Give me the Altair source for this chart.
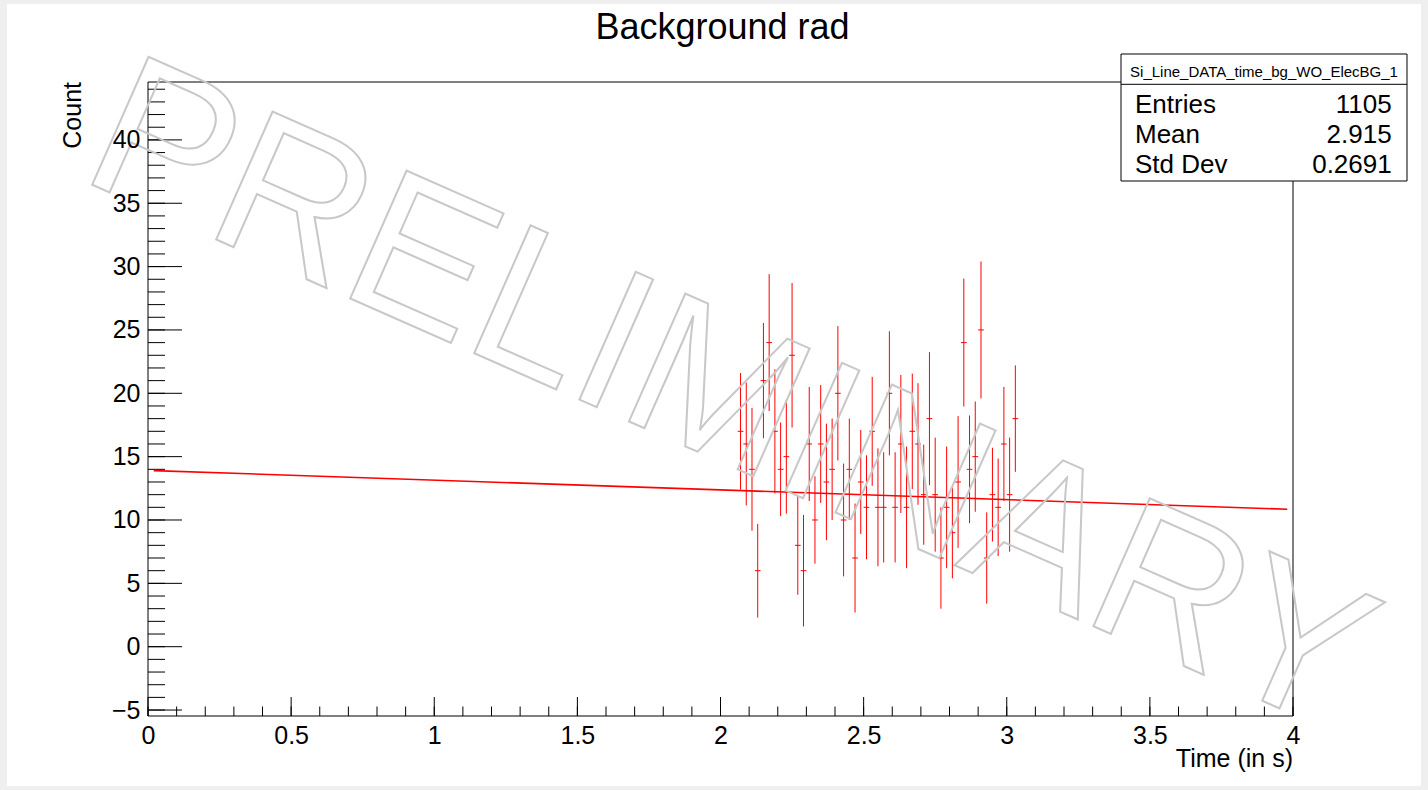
import altair as alt
import pandas as pd

# ---------------- data ----------------
bin_centers = [2.07, 2.09, 2.11, 2.13, 2.15, 2.17, 2.19, 2.21, 2.23, 2.25,
               2.27, 2.29, 2.31, 2.33, 2.35, 2.37, 2.39, 2.41, 2.43, 2.45,
               2.47, 2.49, 2.51, 2.53, 2.55, 2.57, 2.59, 2.61, 2.63, 2.65,
               2.67, 2.69, 2.71, 2.73, 2.75, 2.77, 2.79, 2.81, 2.83, 2.85,
               2.87, 2.89, 2.91, 2.93, 2.95, 2.97, 2.99, 3.01, 3.03]
counts = [17, 16, 14, 6, 21, 24, 17, 14, 15, 23,
          8, 6, 16, 10, 16, 13, 14, 20, 10, 14,
          7, 13, 11, 17, 11, 11, 20, 11, 16, 11,
          17, 16, 12, 18, 12, 7, 11, 9, 13, 24,
          14, 15, 25, 7, 12, 11, 16, 12, 18]
errors = [4.6, 4.85, 4.85, 3.7, 4.55, 5.4, 4.9, 3.7, 4.5, 5.7,
          3.9, 4.4, 4.5, 3.45, 4.65, 4.6, 4.0, 5.3, 4.45, 4.0,
          4.3, 4.1, 4.1, 4.3, 4.65, 4.35, 4.9, 4.35, 5.45, 4.8,
          4.55, 4.8, 3.95, 5.25, 4.5, 4.0, 4.8, 3.6, 5.2, 5.05,
          4.25, 4.35, 5.4, 3.6, 3.7, 3.85, 4.5, 4.5, 4.2]
bin_width = 0.02

fit_x = [0.02, 3.98]
fit_y = [13.9, 10.85]

x_major = [0, 0.5, 1, 1.5, 2, 2.5, 3, 3.5, 4]
x_minor = [round(0.1 * i, 1) for i in range(41)]
y_major = [-5, 0, 5, 10, 15, 20, 25, 30, 35, 40]
y_minor = list(range(-5, 45))

chart_title = "Background rad"
x_title = "Time (in s)"
y_title = "Count"
watermark = "PRELIMINARY"
stats_name = "Si_Line_DATA_time_bg_WO_ElecBG_1"
stats_labels = ["Entries", "Mean", "Std Dev"]
stats_values = ["1105", "2.915", "0.2691"]

# ---------------- layout ----------------
FONT = "Liberation Sans"
W, H = 1145, 634
RED = "#ff0000"

xs = alt.Scale(domain=[0, 4], nice=False, zero=False)
ys = alt.Scale(domain=[-5.47, 44.57], nice=False, zero=False)

x_axis = alt.Axis(values=x_major, format="~g", title=None, grid=False, ticks=False,
                  tickSize=0, domain=False, labelFont=FONT, labelFontSize=25,
                  labelColor="black", labelPadding=7, labelFlush=False,
                  labelOverlap=False, zindex=1)
y_axis = alt.Axis(values=y_major, format="~g", title=None, grid=False, ticks=False,
                  tickSize=0, domain=False, labelFont=FONT, labelFontSize=25,
                  labelColor="black", labelPadding=8, labelFlush=False,
                  labelOverlap=False, zindex=1)

df = pd.DataFrame({"x": bin_centers, "y": counts, "err": errors})
df["lo"] = df["y"] - df["err"]
df["hi"] = df["y"] + df["err"]
df["xl"] = df["x"] - bin_width / 2
df["xr"] = df["x"] + bin_width / 2

one = pd.DataFrame({"k": [0]})

# white page panel on grey surround
page = alt.Chart(one).mark_rect(fill="white").encode(
    x=alt.value(-141), x2=alt.value(1273), y=alt.value(-78), y2=alt.value(704))

# plot frame
frame = alt.Chart(one).mark_rect(fillOpacity=0, stroke="black", strokeWidth=1).encode(
    x=alt.value(0), x2=alt.value(W), y=alt.value(0), y2=alt.value(H))

# inward ticks
ytick_major = alt.Chart(pd.DataFrame({"v": y_major})).mark_rule(color="black", strokeWidth=1).encode(
    y=alt.Y("v:Q", scale=ys, axis=y_axis), x=alt.value(0), x2=alt.value(34))
ytick_minor = alt.Chart(pd.DataFrame({"v": y_minor})).mark_rule(color="black", strokeWidth=1).encode(
    y=alt.Y("v:Q", scale=ys, axis=y_axis), x=alt.value(0), x2=alt.value(17))
xtick_major = alt.Chart(pd.DataFrame({"v": x_major})).mark_rule(color="black", strokeWidth=1).encode(
    x=alt.X("v:Q", scale=xs, axis=x_axis), y=alt.value(H), y2=alt.value(H - 19))
xtick_minor = alt.Chart(pd.DataFrame({"v": x_minor})).mark_rule(color="black", strokeWidth=1).encode(
    x=alt.X("v:Q", scale=xs, axis=x_axis), y=alt.value(H), y2=alt.value(H - 9.5))

# data: vertical error bars and horizontal bin-width bars
err_bars = alt.Chart(df).mark_rule(color=RED, strokeWidth=1).encode(
    x=alt.X("x:Q", scale=xs, axis=x_axis),
    y=alt.Y("lo:Q", scale=ys, axis=y_axis),
    y2="hi:Q")
bin_bars = alt.Chart(df).mark_rule(color=RED, strokeWidth=1).encode(
    x=alt.X("xl:Q", scale=xs, axis=x_axis), x2="xr:Q",
    y=alt.Y("y:Q", scale=ys, axis=y_axis))

fit = alt.Chart(pd.DataFrame({"x": fit_x, "y": fit_y})).mark_line(color=RED, strokeWidth=1.6).encode(
    x=alt.X("x:Q", scale=xs, axis=x_axis), y=alt.Y("y:Q", scale=ys, axis=y_axis))

wm = alt.Chart(pd.DataFrame({"t": [watermark]})).mark_text(
    font=FONT, fontSize=203, angle=23.8, align="left", baseline="alphabetic",
    fillOpacity=0, stroke="#c8c8c8", strokeWidth=2).encode(
    text="t:N", x=alt.value(-71), y=alt.value(96))

title = alt.Chart(pd.DataFrame({"t": [chart_title]})).mark_text(
    font=FONT, fontSize=36, align="center", baseline="alphabetic", color="black").encode(
    text="t:N", x=alt.value(574.5), y=alt.value(-42.7))

xt = alt.Chart(pd.DataFrame({"t": [x_title]})).mark_text(
    font=FONT, fontSize=25, align="right", baseline="alphabetic", color="black").encode(
    text="t:N", x=alt.value(W), y=alt.value(684.7))

yt = alt.Chart(pd.DataFrame({"t": [y_title]})).mark_text(
    font=FONT, fontSize=25, align="right", baseline="alphabetic", angle=270, color="black").encode(
    text="t:N", x=alt.value(-67.3), y=alt.value(0))

# stats box
box = alt.Chart(one).mark_rect(fill="white", stroke="black", strokeWidth=1).encode(
    x=alt.value(973), x2=alt.value(1259), y=alt.value(-28), y2=alt.value(99))
divider = alt.Chart(one).mark_rule(color="black", strokeWidth=1).encode(
    x=alt.value(973), x2=alt.value(1259), y=alt.value(2.3))
box_title = alt.Chart(pd.DataFrame({"t": [stats_name]})).mark_text(
    font=FONT, fontSize=15, align="center", baseline="middle", color="black").encode(
    text="t:N", x=alt.value(1116), y=alt.value(-10))

stat_layers = []
for i, (lab, val) in enumerate(zip(stats_labels, stats_values)):
    yb = 31.3 + 30 * i
    stat_layers.append(alt.Chart(pd.DataFrame({"t": [lab]})).mark_text(
        font=FONT, fontSize=26, align="left", baseline="alphabetic", color="black").encode(
        text="t:N", x=alt.value(987), y=alt.value(yb)))
    stat_layers.append(alt.Chart(pd.DataFrame({"t": [val]})).mark_text(
        font=FONT, fontSize=26, align="right", baseline="alphabetic", color="black").encode(
        text="t:N", x=alt.value(1243.7), y=alt.value(yb)))

chart = alt.layer(
    page, frame, ytick_major, ytick_minor, xtick_major, xtick_minor,
    fit, err_bars, bin_bars, wm, title, xt, yt,
    box, divider, box_title, *stat_layers
).properties(
    width=W, height=H,
    autosize=alt.AutoSizeParams(type="none"),
    padding={"left": 148, "top": 82, "right": 1428 - 148 - W, "bottom": 790 - 82 - H},
    background="#efefef",
).configure_view(strokeWidth=0)

chart.save("out.html", embed_options={"renderer": "svg", "actions": False})
